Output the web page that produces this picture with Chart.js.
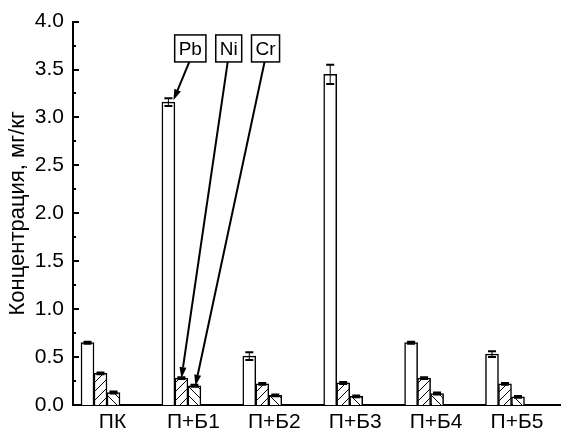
<!DOCTYPE html>
<html>
<head>
<meta charset="utf-8">
<script src="https://cdn.jsdelivr.net/npm/chart.js@4"></script>
<style>
  html, body { margin: 0; padding: 0; background: #fff; }
</style>
</head>
<body>
<canvas id="chart" width="575" height="438"></canvas>
<script>
// Data
const categories = ['ПК', 'П+Б1', 'П+Б2', 'П+Б3', 'П+Б4', 'П+Б5'];
const pbValues = [0.65, 3.16, 0.51, 3.45, 0.65, 0.53];
const pbErrors = [0.01, 0.04, 0.04, 0.10, 0.01, 0.03];
const niValues = [0.33, 0.28, 0.22, 0.23, 0.28, 0.22];
const niErrors = [0.01, 0.01, 0.01, 0.01, 0.01, 0.01];
const crValues = [0.13, 0.20, 0.10, 0.09, 0.12, 0.085];
const crErrors = [0.01, 0.01, 0.01, 0.01, 0.01, 0.01];
const yTicks = [0, 0.5, 1.0, 1.5, 2.0, 2.5, 3.0, 3.5, 4.0];
const seriesNames = ['Pb', 'Ni', 'Cr'];

const FONT = 'Liberation Sans, Arial, sans-serif';

// hatch fill for Ni (/) and Cr (\)
function hatch(dir) {
  const s = 9;
  const c = document.createElement('canvas');
  c.width = s; c.height = s;
  const g = c.getContext('2d');
  g.fillStyle = '#fff';
  g.fillRect(0, 0, s, s);
  g.strokeStyle = '#000';
  g.lineWidth = 1;
  g.beginPath();
  if (dir > 0) {
    g.moveTo(0, s); g.lineTo(s, 0);
    g.moveTo(-2, 2); g.lineTo(2, -2);
    g.moveTo(s - 2, s + 2); g.lineTo(s + 2, s - 2);
  } else {
    g.moveTo(0, 0); g.lineTo(s, s);
    g.moveTo(-2, s - 2); g.lineTo(2, s + 2);
    g.moveTo(s - 2, -2); g.lineTo(s + 2, 2);
  }
  g.stroke();
  return g.createPattern(c, 'repeat');
}

const toPoints = vals => vals.map((v, i) => ({ x: i, y: v }));
const errors = [pbErrors, niErrors, crErrors];

// error bars
const errorBars = {
  id: 'errorBars',
  afterDatasetsDraw(chart) {
    const ctx = chart.ctx;
    const ys = chart.scales.y;
    ctx.save();
    ctx.strokeStyle = '#000';
    chart.data.datasets.forEach((ds, d) => {
      const meta = chart.getDatasetMeta(d);
      meta.data.forEach((el, i) => {
        const v = ds.data[i].y, e = errors[d][i];
        const top = ys.getPixelForValue(v + e);
        const bot = ys.getPixelForValue(v - e);
        ctx.lineWidth = 1;
        ctx.beginPath();
        ctx.moveTo(el.x, top); ctx.lineTo(el.x, bot);
        ctx.stroke();
        ctx.lineWidth = 2;
        ctx.beginPath();
        ctx.moveTo(el.x - 4, top); ctx.lineTo(el.x + 4, top);
        ctx.moveTo(el.x - 4, bot); ctx.lineTo(el.x + 4, bot);
        ctx.stroke();
      });
    });
    ctx.restore();
  }
};

// inward ticks on the y axis
const yMinorTicks = {
  id: 'yMinorTicks',
  afterDraw(chart) {
    const ctx = chart.ctx;
    const ys = chart.scales.y;
    const x0 = chart.chartArea.left;
    ctx.save();
    ctx.strokeStyle = '#000';
    ctx.lineWidth = 2;
    ctx.beginPath();
    yTicks.forEach((t, i) => {
      const y = Math.round(ys.getPixelForValue(t));
      ctx.moveTo(x0, y); ctx.lineTo(x0 + 6, y);
      if (i < yTicks.length - 1) {
        const ym = Math.round(ys.getPixelForValue((t + yTicks[i + 1]) / 2));
        ctx.moveTo(x0, ym); ctx.lineTo(x0 + 3, ym);
      }
    });
    ctx.stroke();
    ctx.restore();
  }
};

// labelled arrows pointing at the П+Б1 bars
const callouts = {
  id: 'callouts',
  afterDraw(chart) {
    const ctx = chart.ctx;
    const xs = chart.scales.x, ys = chart.scales.y;
    const boxX = [1.11, 1.585, 2.04];
    const boxY = 3.72;
    const group = 1;
    ctx.save();
    ctx.font = '19px ' + FONT;
    ctx.textAlign = 'center';
    ctx.textBaseline = 'middle';
    seriesNames.forEach((name, d) => {
      const cx = xs.getPixelForValue(boxX[d]);
      const cy = ys.getPixelForValue(boxY);
      const w = ctx.measureText(name).width + 8;
      const h = 27;
      ctx.fillStyle = '#fff';
      ctx.fillRect(cx - w / 2, cy - h / 2, w, h);
      ctx.strokeStyle = '#000';
      ctx.lineWidth = 1.5;
      ctx.strokeRect(cx - w / 2, cy - h / 2, w, h);
      ctx.fillStyle = '#000';
      ctx.fillText(name, cx, cy + 1);

      const el = chart.getDatasetMeta(d).data[group];
      const v = chart.data.datasets[d].data[group].y;
      let tx, ty;
      if (d === 0) {
        tx = el.x + 5;
        ty = ys.getPixelForValue(v + errors[d][group]) + 2;
      } else {
        tx = el.x + (d === 2 ? 1 : 0);
        ty = ys.getPixelForValue(v);
      }
      const sx = cx - 1, sy = cy + h / 2;
      const ang = Math.atan2(ty - sy, tx - sx);
      const len = 11, hw = 3.5;
      const bx = tx - len * Math.cos(ang), by = ty - len * Math.sin(ang);
      ctx.lineWidth = 2;
      ctx.beginPath();
      ctx.moveTo(sx, sy); ctx.lineTo(bx, by);
      ctx.stroke();
      ctx.beginPath();
      ctx.moveTo(tx, ty);
      ctx.lineTo(bx + hw * Math.sin(ang), by - hw * Math.cos(ang));
      ctx.lineTo(bx - hw * Math.sin(ang), by + hw * Math.cos(ang));
      ctx.closePath();
      ctx.fill();
    });
    ctx.restore();
  }
};

const barStyle = {
  borderColor: '#000',
  borderWidth: 1.5,
  barThickness: 13
};

new Chart(document.getElementById('chart'), {
  type: 'bar',
  data: {
    datasets: [
      Object.assign({ label: 'Pb', data: toPoints(pbValues), backgroundColor: '#fff' }, barStyle),
      Object.assign({ label: 'Ni', data: toPoints(niValues), backgroundColor: hatch(1) }, barStyle),
      Object.assign({ label: 'Cr', data: toPoints(crValues), backgroundColor: hatch(-1) }, barStyle)
    ]
  },
  options: {
    responsive: false,
    devicePixelRatio: 1,
    animation: false,
    layout: { padding: { top: 13, right: 15, left: 0, bottom: 0 } },
    plugins: {
      legend: { display: false },
      tooltip: { enabled: false }
    },
    scales: {
      x: {
        type: 'linear',
        offset: false,
        min: -0.34,
        max: 5.68,
        grid: { display: false, drawTicks: false, offset: false },
        border: { display: true, color: '#000', width: 2 },
        afterBuildTicks: s => { s.ticks = categories.map((_, i) => ({ value: i })); },
        afterFit: s => { s.height = 33; },
        ticks: {
          color: '#000',
          font: { family: FONT, size: 21 },
          padding: 5,
          labelOffset: 12,
          maxRotation: 0,
          autoSkip: false,
          callback: v => categories[v]
        }
      },
      y: {
        min: 0,
        max: 4,
        grid: { display: false, drawTicks: false },
        border: { display: true, color: '#000', width: 2 },
        afterBuildTicks: s => { s.ticks = yTicks.map(v => ({ value: v })); },
        afterFit: s => { s.width = 73; },
        ticks: {
          color: '#000',
          font: { family: FONT, size: 21 },
          padding: 9,
          callback: v => v.toFixed(1)
        },
        title: {
          display: true,
          text: 'Концентрация, мг/кг',
          color: '#000',
          font: { family: FONT, size: 22 },
          padding: { top: 5, bottom: 0 }
        }
      }
    }
  },
  plugins: [errorBars, yMinorTicks, callouts]
});
</script>
</body>
</html>
